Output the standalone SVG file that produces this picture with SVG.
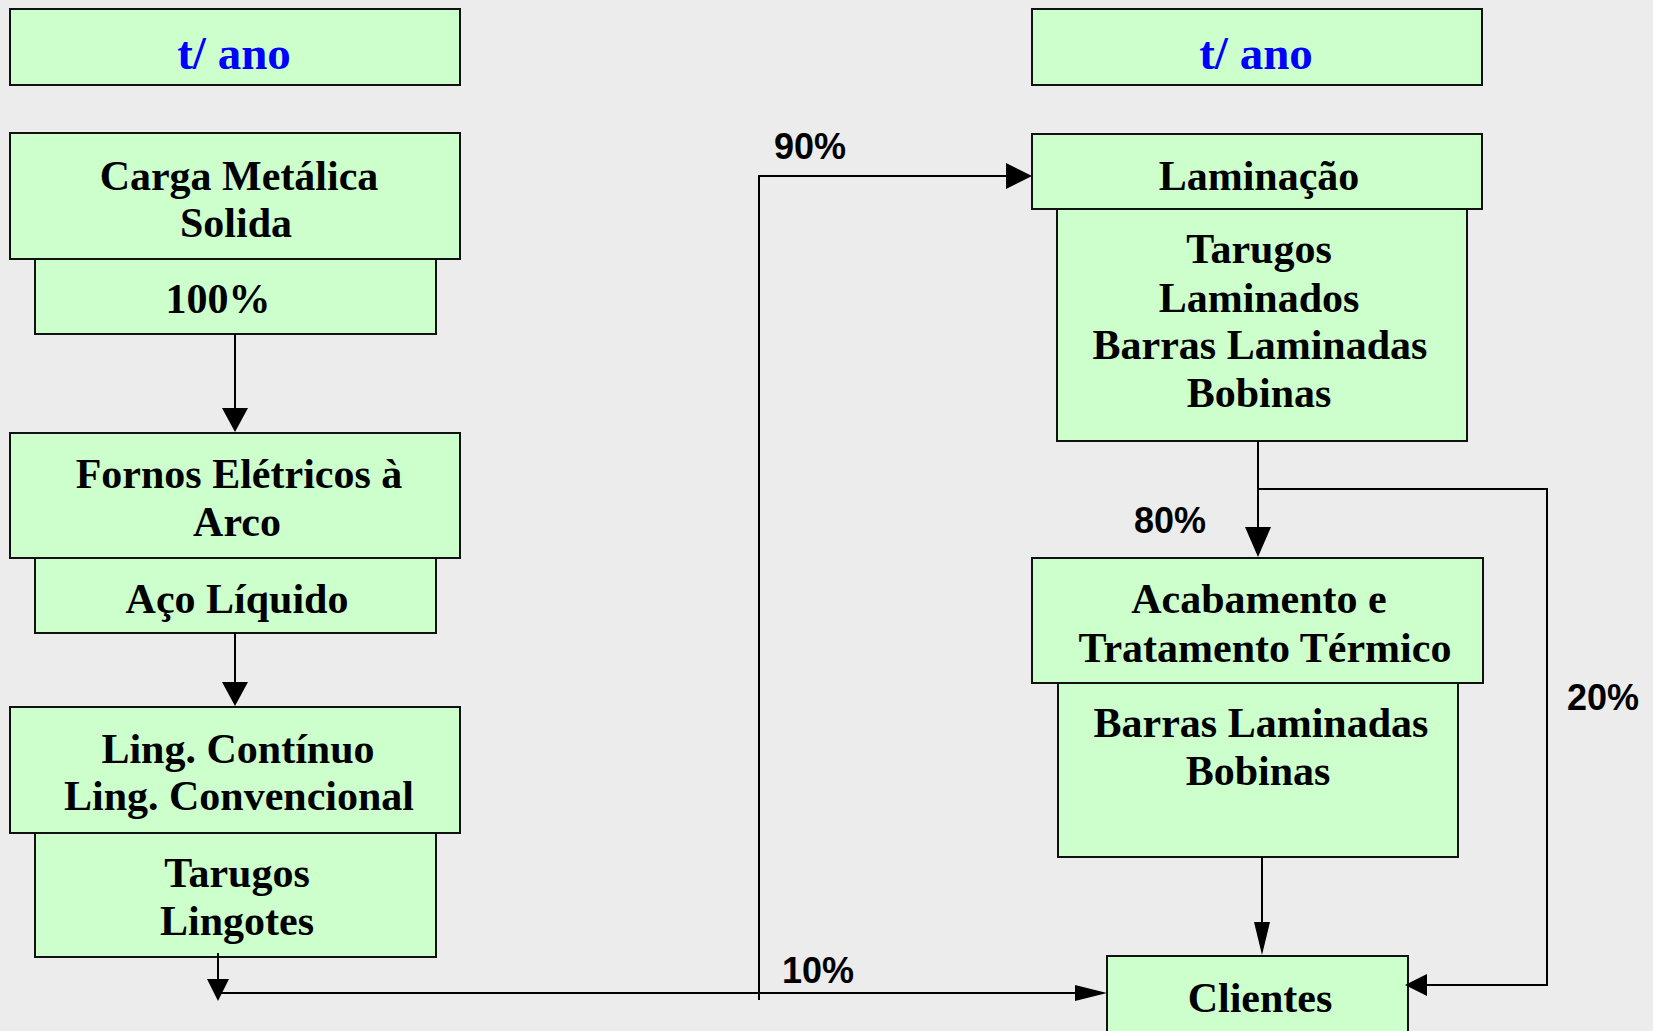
<svg xmlns="http://www.w3.org/2000/svg" width="1653" height="1031" viewBox="0 0 1653 1031">
<style>
.box{fill:#ccffcc;stroke:#111;stroke-width:2}
.t{font-family:"Liberation Serif","Times New Roman",serif;font-weight:bold;font-size:42px;fill:#000;text-anchor:middle}
.b{font-family:"Liberation Serif","Times New Roman",serif;font-weight:bold;font-size:47px;fill:#0000ff;text-anchor:middle}
.p{font-family:"Liberation Sans",Arial,sans-serif;font-weight:bold;font-size:36px;fill:#000}
.c{fill:none;stroke:#000;stroke-width:2}
.h{fill:#000;stroke:none}
</style>
<rect width="1653" height="1031" fill="#ececec"/>
<g id="head-left"><rect class="box" x="10" y="9" width="450" height="76"/><text class="b" x="234" y="69">t/ ano</text></g>
<g id="head-right"><rect class="box" x="1032" y="9" width="450" height="76"/><text class="b" x="1256" y="69">t/ ano</text></g>
<g id="carga"><rect class="box" x="10" y="133" width="450" height="126"/><text class="t" x="239" y="190">Carga Metálica</text><text class="t" x="236" y="237">Solida</text></g>
<g id="pct100"><rect class="box" x="35" y="259" width="401" height="75"/><text class="t" x="218" y="313">100%</text></g>
<g id="fornos"><rect class="box" x="10" y="433" width="450" height="125"/><text class="t" x="239" y="488">Fornos Elétricos à</text><text class="t" x="237" y="536">Arco</text></g>
<g id="aco"><rect class="box" x="35" y="558" width="401" height="75"/><text class="t" x="237" y="613">Aço Líquido</text></g>
<g id="ling"><rect class="box" x="10" y="707" width="450" height="126"/><text class="t" x="238" y="763">Ling. Contínuo</text><text class="t" x="239" y="810">Ling. Convencional</text></g>
<g id="tarugos"><rect class="box" x="35" y="833" width="401" height="124"/><text class="t" x="237" y="887">Tarugos</text><text class="t" x="237" y="935">Lingotes</text></g>
<g id="laminacao"><rect class="box" x="1032" y="134" width="450" height="75"/><text class="t" x="1259" y="190">Laminação</text></g>
<g id="tarugos-lam"><rect class="box" x="1057" y="209" width="410" height="232"/><text class="t" x="1259" y="263">Tarugos</text><text class="t" x="1259" y="312">Laminados</text><text class="t" x="1260" y="359">Barras Laminadas</text><text class="t" x="1259" y="407">Bobinas</text></g>
<g id="acabamento"><rect class="box" x="1032" y="558" width="451" height="125"/><text class="t" x="1259" y="613">Acabamento e</text><text class="t" x="1265" y="662">Tratamento Térmico</text></g>
<g id="barras"><rect class="box" x="1058" y="683" width="400" height="174"/><text class="t" x="1261" y="737">Barras Laminadas</text><text class="t" x="1258" y="785">Bobinas</text></g>
<g id="clientes"><rect class="box" x="1107" y="956" width="301" height="80"/><text class="t" x="1260" y="1012">Clientes</text></g>
<g id="connectors">
<line class="c" x1="235" y1="334" x2="235" y2="410"/><polygon class="h" points="222,408 248,408 235,432"/>
<line class="c" x1="235" y1="633" x2="235" y2="685"/><polygon class="h" points="222,682 248,682 235,706"/>
<line class="c" x1="218" y1="953" x2="218" y2="982"/><polygon class="h" points="207,979 229,979 218,1001"/>
<polyline class="c" points="218,993 1078,993"/><polygon class="h" points="1075,985 1107,993 1075,1001"/>
<polyline class="c" points="759,1000 759,176 1008,176"/><polygon class="h" points="1006,163 1032,176 1006,189"/>
<line class="c" x1="1258" y1="441" x2="1258" y2="530"/><polygon class="h" points="1245,527 1271,527 1258,557"/>
<polyline class="c" points="1258,489 1547,489 1547,985 1424,985"/><polygon class="h" points="1427,974 1427,996 1405,985"/>
<line class="c" x1="1262" y1="857" x2="1262" y2="925"/><polygon class="h" points="1254,922 1270,922 1262,955"/>
</g>
<g id="labels">
<text class="p" x="774" y="159">90%</text>
<text class="p" x="1134" y="533">80%</text>
<text class="p" x="1567" y="710">20%</text>
<text class="p" x="782" y="983">10%</text>
</g>
</svg>
